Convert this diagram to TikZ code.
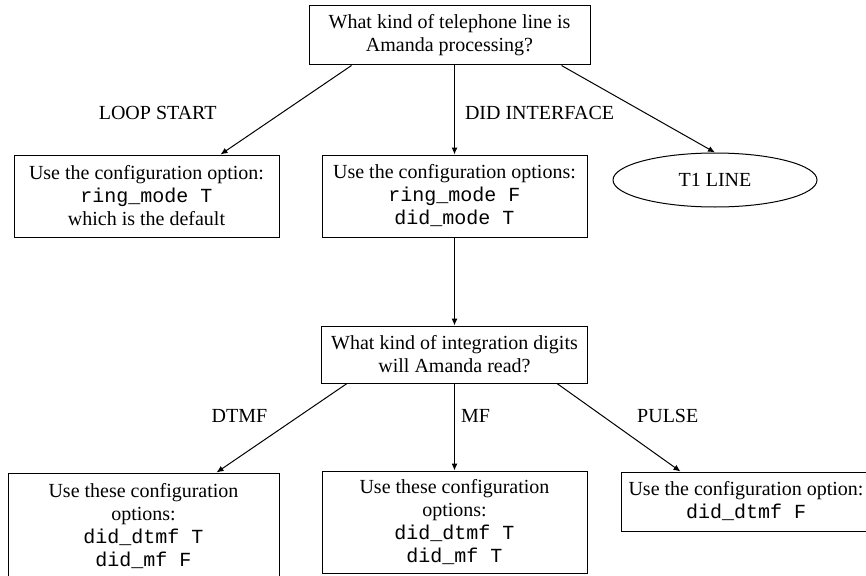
\documentclass[tikz,border=0pt]{standalone}
\usepackage{fontspec}
\setmainfont{Liberation Serif}
\setmonofont{Liberation Mono}
\usetikzlibrary{arrows.meta, shapes.geometric}
\usetikzlibrary{positioning}
\tikzstyle{question_box} = [
    rectangle, 
    draw=black, 
    line width=1pt, 
    align=center, 
    inner sep=2pt, 
    font=\fontsize{20}{23}\selectfont
]
\tikzstyle{option_box} = [
    rectangle, 
    draw=black, 
    line width=1pt, 
    align=center, 
    inner sep=2pt, % keeps the long first line inside
    font=\fontsize{20}{23}\selectfont
]
\tikzstyle{end_node} = [
    ellipse, 
    draw=black, 
    line width=1pt, 
    inner sep=0pt, 
    minimum width=204pt, 
    minimum height=54pt, 
    font=\fontsize{20}{23}\selectfont
]
\tikzstyle{branch} = [
    line width=1pt, 
    -{Latex[length=7pt, width=6pt]}
]
\tikzstyle{branch_label} = [
    inner sep=3pt, 
    font=\fontsize{20}{23}\selectfont
]

\begin{document}
\begin{tikzpicture}[x=1pt, y=-1pt]
\useasboundingbox (0,0) rectangle (866,575);

\node [question_box, minimum width=281pt, minimum height=59pt] (q_line) at (449.5,35.5)
    {What kind of telephone line is\\ Amanda processing?};
\node [option_box, minimum width=265pt, minimum height=82pt] (opt_loop) at (146.5,196)
    {Use the configuration option:\\ \texttt{ring\_mode T}\\ which is the default};
\node [option_box, minimum width=265pt, minimum height=82pt] (opt_did) at (454.5,196)
    {Use the configuration options:\\ \texttt{ring\_mode F}\\ \texttt{did\_mode T}};
\node [end_node] (t1) at (715,180) {T1 LINE};
\node [question_box, minimum width=266pt, minimum height=57pt] (q_digits) at (454.5,354.5)
    {What kind of integration digits\\ will Amanda read?};
\node [option_box, minimum width=271pt, minimum height=107pt] (opt_dtmf) at (143.5,526.5)
    {Use these configuration\\ options:\\ \texttt{did\_dtmf T}\\ \texttt{did\_mf F}};
\node [option_box, minimum width=265pt, minimum height=102pt] (opt_mf) at (454.5,522)
    {Use these configuration\\ options:\\ \texttt{did\_dtmf T}\\ \texttt{did\_mf T}};
\node [option_box, minimum width=250pt, minimum height=59pt] (opt_pulse) at (746,501.5)
    {Use the configuration option:\\ \texttt{did\_dtmf F}};

% line type
\draw [branch] ([xshift=43pt]q_line.south west) -- 
    node [branch_label, pos=0.53, left=62pt] (lbl_loop) {LOOP START} 
    ([xshift=-59pt]opt_loop.north east);
\draw [branch] (q_line.south -| opt_did.north) -- 
    node [branch_label, pos=0.53, right=7pt] (lbl_did) {DID INTERFACE} 
    (opt_did.north);
\draw [branch] ([xshift=-29pt]q_line.south east) -- (t1.north);
\draw [line width=1pt, -{Latex[length=7pt, width=6pt]}] (opt_did.south) -- (q_digits.north);

% digit type
\draw [branch] ([xshift=26pt]q_digits.south west) -- 
    node [branch_label, pos=0.37, left=28pt] (lbl_dtmf) {DTMF} 
    ([xshift=-63pt]opt_dtmf.north east);
\draw [branch] (q_digits.south) -- 
    node [branch_label, pos=0.37, right=3pt] (lbl_mf) {MF} 
    (opt_mf.north);
\draw [branch] ([xshift=-31pt]q_digits.south east) -- 
    node [branch_label, pos=0.37, right=31pt] (lbl_pulse) {PULSE} 
    ([xshift=60pt]opt_pulse.north west);
\end{tikzpicture}
\end{document}
